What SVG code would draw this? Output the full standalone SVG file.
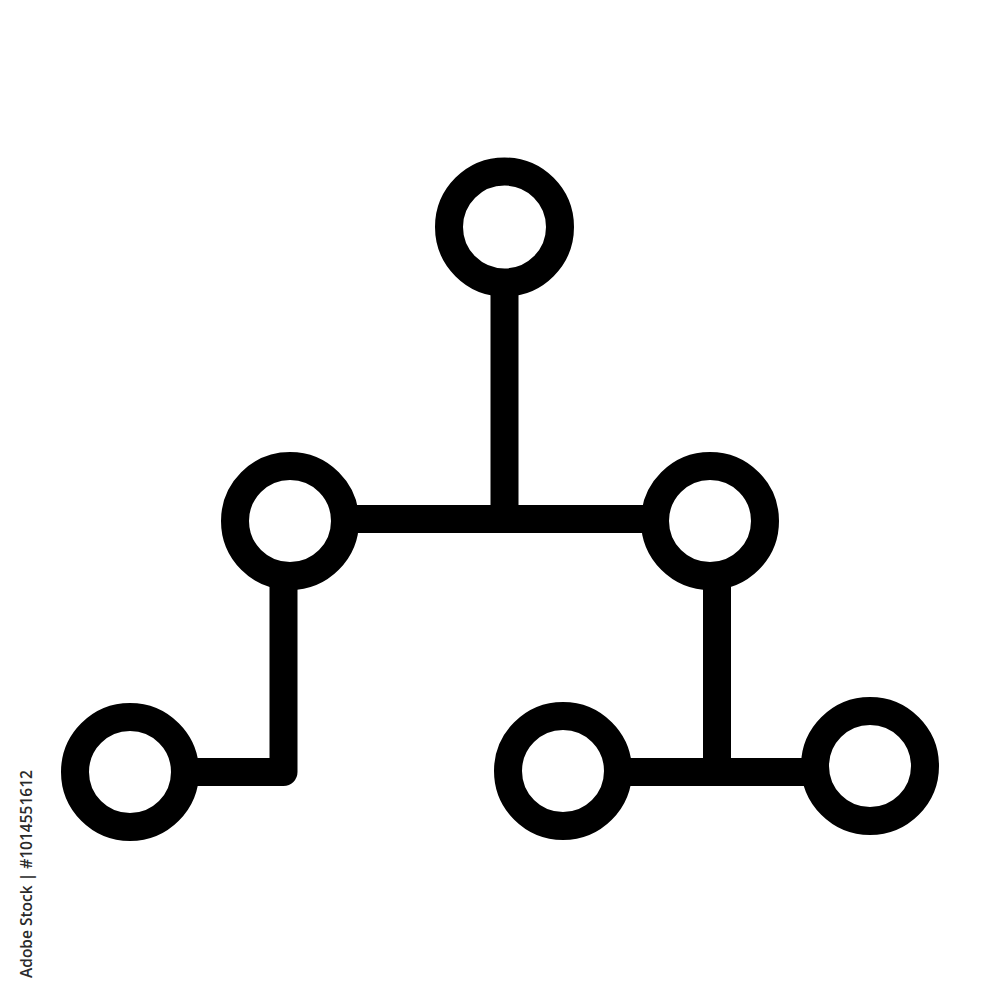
<svg xmlns="http://www.w3.org/2000/svg" width="1000" height="1000" viewBox="0 0 1000 1000">
  <style>
    .node { fill: none; stroke: #000; stroke-width: 28; }
    .link { fill: none; stroke: #000; stroke-width: 28; stroke-linejoin: round; stroke-linecap: butt; }
    .mark { font-family: "Open Sans", "Liberation Sans", sans-serif; font-size: 15.5px; font-weight: 600; fill: #2a2a2a; }
  </style>
  <rect width="1000" height="1000" fill="#fff"/>
  <g id="connectors">
    <path class="link" d="M504.5 282 V519"/>
    <path class="link" d="M344 519 H656"/>
    <path class="link" d="M283.5 574 V772 H184"/>
    <path class="link" d="M717 574 V772"/>
    <path class="link" d="M617 772 H816"/>
  </g>
  <g id="node-top"><circle class="node" cx="504.5" cy="227" r="55.5"/></g>
  <g id="node-mid-left"><circle class="node" cx="290" cy="521" r="55"/></g>
  <g id="node-mid-right"><circle class="node" cx="710" cy="521" r="55"/></g>
  <g id="node-bottom-left"><circle class="node" cx="130" cy="772" r="55"/></g>
  <g id="node-bottom-mid"><circle class="node" cx="563" cy="771" r="55"/></g>
  <g id="node-bottom-right"><circle class="node" cx="870" cy="766" r="55"/></g>
  <text class="mark" transform="translate(32,978) rotate(-90)">Adobe Stock | #1014551612</text>
</svg>
